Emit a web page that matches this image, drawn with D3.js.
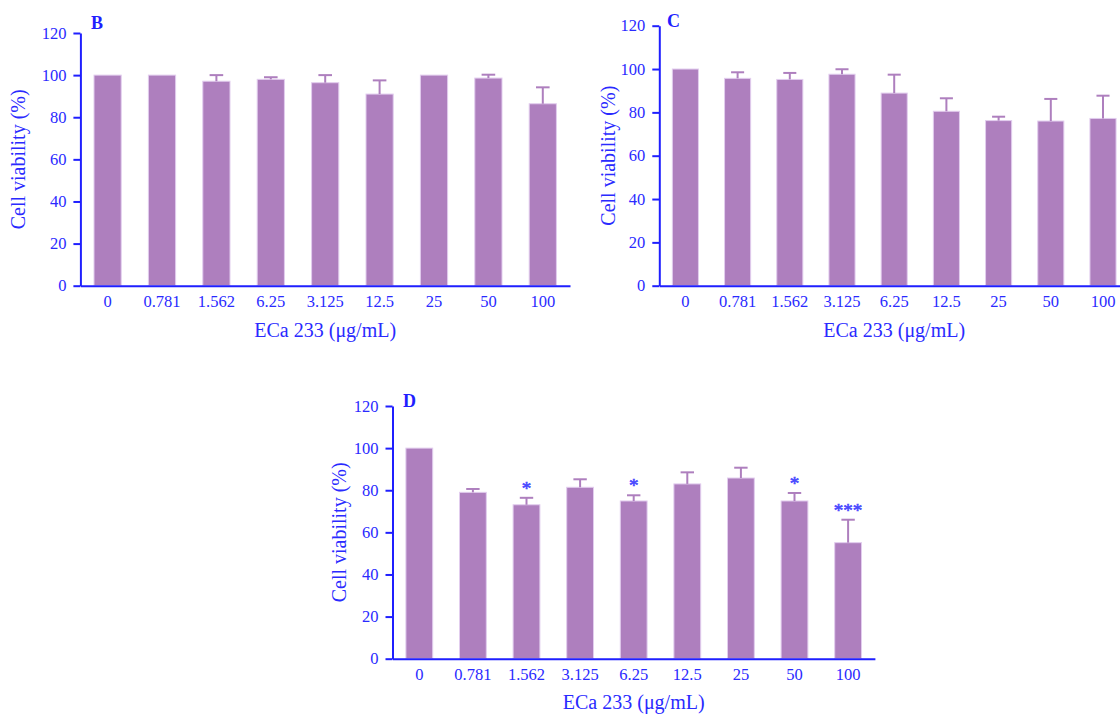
<!DOCTYPE html>
<html>
<head>
<meta charset="utf-8">
<script src="https://cdn.jsdelivr.net/npm/d3@7"></script>
<style>
  html, body { margin: 0; padding: 0; background: #fff; }
  svg { display: block; }
  text { font-family: "Liberation Serif", "Times New Roman", serif; }
</style>
</head>
<body>
<svg id="fig" width="1120" height="715"></svg>
<script>
// Concentration groups (µg/mL), in the order plotted on each panel
const dosesB = ["0", "0.781", "1.562", "6.25", "3.125", "12.5", "25", "50", "100"];
const dosesCD = ["0", "0.781", "1.562", "3.125", "6.25", "12.5", "25", "50", "100"];

// Panel B: mean cell viability (%) and upper error (mean + SD)
const meanB = [100, 100, 97.1, 98.0, 96.4, 91.0, 100, 98.6, 86.4];
const topB  = [100, 100, 100, 99.0, 100, 97.5, 100, 100.2, 94.2];

// Panel C
const meanC = [100, 95.7, 95.2, 97.6, 88.9, 80.5, 76.2, 76.0, 77.2];
const topC  = [100, 98.5, 98.2, 99.9, 97.4, 86.5, 78.0, 86.2, 87.7];

// Panel D
const meanD = [100, 79.0, 73.1, 81.4, 74.9, 83.0, 85.8, 74.9, 55.1];
const topD  = [100, 80.6, 76.4, 85.2, 77.6, 88.5, 90.7, 78.7, 66.0];
const sigD  = ["", "", "*", "", "*", "", "", "*", "***"];

const yTicks = [0, 20, 40, 60, 80, 100, 120];
const xTitle = "ECa 233 (\u03bcg/mL)";
const yTitle = "Cell viability (%)";

const BLUE = "#1f1fff";
const TEXT = "#2a2aff";
const BAR = "#ae7fbe";
const BAR_EDGE = "#e2cdee";
const STAR = "#4a4aff";

const svg = d3.select("#fig");

const panels = [
  { letter: "B", cats: dosesB, mean: meanB, top: topB, sig: null,
    x0: 80.4, step: 54.4, yBase: 285.7, yTop: 33, titleX: 24.5, titleGap: 51.5,
    letterX: 91, letterY: 29 },
  { letter: "C", cats: dosesCD, mean: meanC, top: topC, sig: null,
    x0: 659.3, step: 52.2, yBase: 285.7, yTop: 25.7, titleX: 615, titleGap: 51.5,
    letterX: 667, letterY: 27 },
  { letter: "D", cats: dosesCD, mean: meanD, top: topD, sig: sigD,
    x0: 392.5, step: 53.6, yBase: 658.7, yTop: 406, titleX: 346, titleGap: 50.5,
    letterX: 403, letterY: 407 }
];

panels.forEach(p => {
  const g = svg.append("g");
  const x = d3.scaleBand()
    .domain(p.cats)
    .range([p.x0, p.x0 + p.step * p.cats.length])
    .paddingInner(0.5)
    .paddingOuter(0.25);
  const y = d3.scaleLinear().domain([0, 120]).range([p.yBase, p.yTop]);

  const rows = p.cats.map((c, i) => ({ c, m: p.mean[i], t: p.top[i], s: p.sig ? p.sig[i] : "" }));

  // bars
  g.selectAll("rect.bar").data(rows).join("rect")
    .attr("class", "bar")
    .attr("x", d => x(d.c))
    .attr("width", x.bandwidth())
    .attr("y", d => y(d.m))
    .attr("height", d => y(0) - y(d.m))
    .attr("fill", BAR)
    .attr("stroke", BAR_EDGE)
    .attr("stroke-width", 1);

  // upper error bars
  const eb = rows.filter(d => d.t > d.m + 0.3);
  const cx = d => x(d.c) + x.bandwidth() / 2;
  const cap = x.bandwidth() / 4;
  g.selectAll("line.err").data(eb).join("line")
    .attr("x1", cx).attr("x2", cx)
    .attr("y1", d => y(d.m)).attr("y2", d => y(d.t))
    .attr("stroke", BAR).attr("stroke-width", 2);
  g.selectAll("line.cap").data(eb).join("line")
    .attr("x1", d => cx(d) - cap).attr("x2", d => cx(d) + cap)
    .attr("y1", d => y(d.t)).attr("y2", d => y(d.t))
    .attr("stroke", BAR).attr("stroke-width", 2);

  // significance marks
  g.selectAll("text.sig").data(rows.filter(d => d.s)).join("text")
    .attr("x", cx)
    .attr("y", d => y(d.t) - 3)
    .attr("text-anchor", "middle")
    .attr("font-size", 19)
    .attr("fill", STAR)
    .attr("stroke", STAR)
    .attr("stroke-width", 0.6)
    .text(d => d.s);

  // y axis
  const ya = g.append("g")
    .attr("transform", `translate(${p.x0},0)`)
    .call(d3.axisLeft(y).tickValues(yTicks).tickSize(7).tickSizeOuter(0).tickPadding(7));
  ya.select(".domain").attr("stroke", BLUE).attr("stroke-width", 2);
  ya.selectAll(".tick line").attr("stroke", BLUE).attr("stroke-width", 2);
  ya.selectAll(".tick text").attr("fill", TEXT).attr("font-size", 16.5)
    .attr("font-family", "'Liberation Serif', 'Times New Roman', serif");

  // x axis
  const xa = g.append("g")
    .attr("transform", `translate(0,${p.yBase})`)
    .call(d3.axisBottom(x).tickSize(0).tickSizeOuter(0).tickPadding(10));
  xa.select(".domain").attr("stroke", BLUE).attr("stroke-width", 2);
  xa.selectAll(".tick text").attr("fill", TEXT).attr("font-size", 16.5)
    .attr("font-family", "'Liberation Serif', 'Times New Roman', serif");

  // axis titles
  const xr = x.range();
  g.append("text")
    .attr("x", (xr[0] + xr[1]) / 2)
    .attr("y", p.yBase + p.titleGap)
    .attr("text-anchor", "middle")
    .attr("font-size", 20)
    .attr("fill", TEXT)
    .text(xTitle);

  g.append("text")
    .attr("transform", `translate(${p.titleX},${(p.yBase + p.yTop) / 2}) rotate(-90)`)
    .attr("text-anchor", "middle")
    .attr("font-size", 20)
    .attr("fill", TEXT)
    .text(yTitle);

  // panel letter
  g.append("text")
    .attr("x", p.letterX)
    .attr("y", p.letterY)
    .attr("font-size", 18)
    .attr("font-weight", "bold")
    .attr("fill", BLUE)
    .text(p.letter);
});
</script>
</body>
</html>
